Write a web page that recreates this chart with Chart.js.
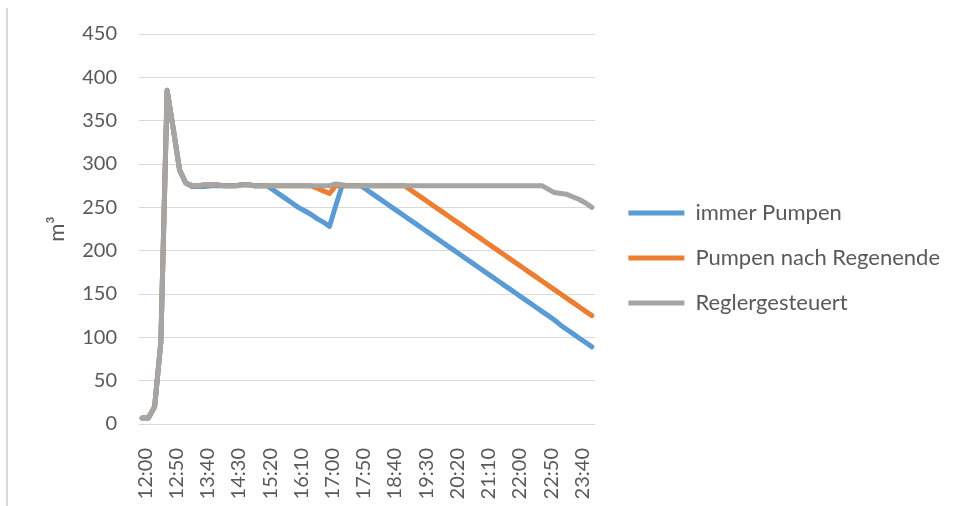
<!DOCTYPE html>
<html>
<head>
<meta charset="utf-8">
<script src="https://cdn.jsdelivr.net/npm/chart.js@4.4.1/dist/chart.umd.min.js"></script>
<style>
  html, body { margin: 0; padding: 0; background: #ffffff; }
  #wrap { position: relative; width: 957px; height: 506px; overflow: hidden; }
  #edge { position: absolute; left: 6px; top: 8px; width: 2px; height: 498px; background: #d9d9d9; }
  #c { position: absolute; left: 0; top: 0; }
</style>
</head>
<body>
<div id="wrap">
  <div id="edge"></div>
  <canvas id="c" width="957" height="506"></canvas>
</div>
<script>
// Zeitpunkte im 10-Minuten-Raster
const times = [
  '12:00','12:10','12:20','12:30','12:40','12:50',
  '13:00','13:10','13:20','13:30','13:40','13:50',
  '14:00','14:10','14:20','14:30','14:40','14:50',
  '15:00','15:10','15:20','15:30','15:40','15:50',
  '16:00','16:10','16:20','16:30','16:40','16:50',
  '17:00','17:10','17:20','17:30','17:40','17:50',
  '18:00','18:10','18:20','18:30','18:40','18:50',
  '19:00','19:10','19:20','19:30','19:40','19:50',
  '20:00','20:10','20:20','20:30','20:40','20:50',
  '21:00','21:10','21:20','21:30','21:40','21:50',
  '22:00','22:10','22:20','22:30','22:40','22:50',
  '23:00','23:10','23:20','23:30','23:40','23:50',
  '0:00'
];

// Speichervolumen in m³
const immerPumpen = [
  7, 7, 20, 95, 385, 340, 293, 278, 274, 274,
  274, 275, 275, 275, 275, 275, 276, 276, 275, 275,
  275, 270, 265, 260, 255, 250, 246, 242, 237, 233,
  228, 252, 275, 275, 275, 275, 270, 265, 260, 255,
  250, 245, 240, 235, 230, 225, 220, 215, 210, 205,
  200, 195, 190, 185, 180, 175, 170, 165, 160, 155,
  150, 145, 140, 135, 130, 125, 120, 114, 109, 104,
  99, 94, 89
];

const pumpenNachRegenende = [
  7, 7, 20, 95, 385, 340, 293, 278, 275, 275,
  276, 276, 276, 275, 275, 275, 276, 276, 275, 275,
  275, 275, 275, 275, 275, 275, 275, 275, 272, 269,
  266, 275, 275, 275, 275, 275, 275, 275, 275, 275,
  275, 275, 275, 270, 265, 260, 255, 250, 245, 240,
  235, 230, 225, 220, 215, 210, 205, 200, 195, 190,
  185, 180, 175, 170, 165, 160, 155, 150, 145, 140,
  135, 130, 125
];

const reglergesteuert = [
  7, 7, 20, 95, 385, 340, 293, 278, 275, 275,
  276, 276, 276, 275, 275, 275, 276, 276, 275, 275,
  275, 275, 275, 275, 275, 275, 275, 275, 275, 275,
  275, 277, 276, 275, 275, 275, 275, 275, 275, 275,
  275, 275, 275, 275, 275, 275, 275, 275, 275, 275,
  275, 275, 275, 275, 275, 275, 275, 275, 275, 275,
  275, 275, 275, 275, 275, 271, 267, 266, 265, 262,
  259, 255, 250
];

const seriesNames = ['immer Pumpen', 'Pumpen nach Regenende', 'Reglergesteuert'];
const seriesColors = ['#5B9BD5', '#ED7D31', '#A5A5A5'];
const yMin = 0, yMax = 450, yStep = 50;
const labelEvery = 5;

const textColor = '#595959';
const gridColor = '#d9d9d9';
const fontFamily = 'Lato, Carlito, "Liberation Sans", sans-serif';
const plotRight = 595;
const rightPad = 7;

function lineSeries(label, data, color, order) {
  return {
    label, data, order,
    xAxisID: 'x',
    yAxisID: 'y',
    borderColor: color,
    backgroundColor: color,
    borderWidth: 5,
    borderCapStyle: 'round',
    borderJoinStyle: 'round',
    pointRadius: 0,
    pointHoverRadius: 0,
    tension: 0,
    fill: false
  };
}

// empty layout boxes that only reserve space
const spacer = (position, size) => ({
  type: 'linear',
  position,
  display: true,
  grid: { display: false },
  border: { display: false },
  ticks: { display: false },
  afterFit(scale) {
    const s = typeof size === 'function' ? size(scale) : size;
    if (scale.isHorizontal()) scale.height = s; else scale.width = s;
  }
});

new Chart(document.getElementById('c'), {
  type: 'line',
  data: {
    labels: times,
    datasets: [
      lineSeries(seriesNames[0], immerPumpen, seriesColors[0], 3),
      lineSeries(seriesNames[1], pumpenNachRegenende, seriesColors[1], 2),
      lineSeries(seriesNames[2], reglergesteuert, seriesColors[2], 1)
    ]
  },
  options: {
    responsive: false,
    animation: false,
    events: [],
    layout: { padding: { top: 10, bottom: 0, left: 0, right: rightPad } },
    plugins: {
      tooltip: { enabled: false },
      legend: {
        position: 'right',
        align: 'center',
        maxWidth: 420,
        labels: {
          boxWidth: 56,
          boxHeight: 5,
          padding: 23,
          color: textColor,
          font: { family: fontFamily, size: 22 },
          sort: (a, b) => a.datasetIndex - b.datasetIndex,
          generateLabels(chart) {
            const items = Chart.defaults.plugins.legend.labels.generateLabels(chart);
            items.forEach(it => { it.lineWidth = 0; });
            return items;
          }
        }
      }
    },
    scales: {
      x: {
        type: 'category',
        position: 'bottom',
        offset: true,
        grid: { display: false },
        border: { display: false },
        ticks: {
          autoSkip: false,
          minRotation: 90,
          maxRotation: 90,
          padding: 16,
          labelOffset: 3,
          color: textColor,
          font: { family: fontFamily, size: 20 },
          callback(value, index) {
            return index % labelEvery === 0 ? this.getLabelForValue(value) : '';
          }
        },
        afterFit(scale) { scale.height = 82; }
      },
      y: {
        position: 'left',
        min: yMin,
        max: yMax,
        border: { display: false },
        grid: { color: gridColor, lineWidth: 1, drawTicks: false },
        ticks: {
          stepSize: yStep,
          padding: 22,
          color: textColor,
          font: { family: fontFamily, size: 20 }
        },
        title: {
          display: true,
          text: 'm³',
          color: textColor,
          font: { family: fontFamily, size: 22 },
          padding: { top: 44, bottom: 0 }
        },
        afterFit(scale) { scale.width = 139; }
      },
      topGap: spacer('top', 24),
      rightGap: spacer('right', scale => {
        const legendWidth = scale.chart.legend ? scale.chart.legend.width : 0;
        return Math.max(0, scale.chart.width - rightPad - legendWidth - plotRight);
      })
    }
  }
});
</script>
</body>
</html>
